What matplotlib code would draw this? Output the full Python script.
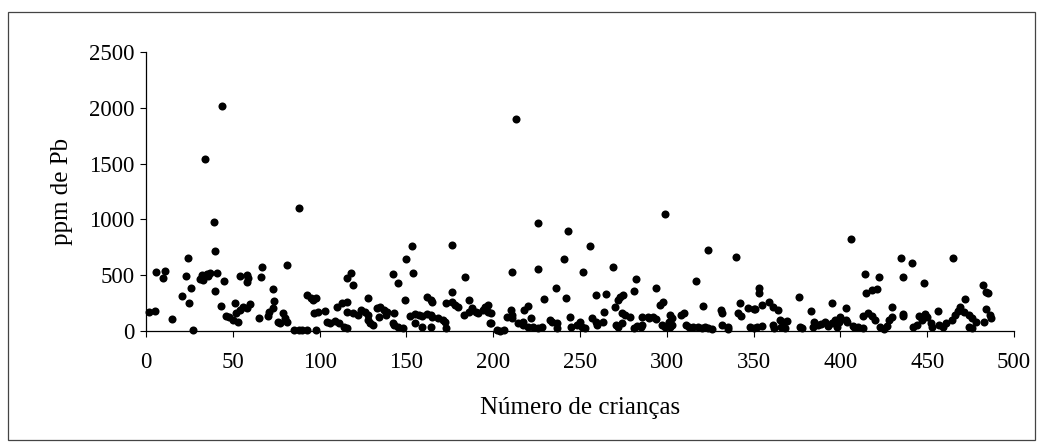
import matplotlib
matplotlib.use("Agg")
import matplotlib.pyplot as plt
from matplotlib.patches import Rectangle

# Number of child (x) and lead concentration in ppm (y)
crianca = [
    2, 5, 6, 10, 11, 15, 21, 24, 23, 25, 26, 27, 31, 32, 34, 35, 36, 37, 33, 39,
    40, 40, 41, 43, 44, 45, 46, 48, 50, 51, 52, 53, 54, 54, 56, 58, 58, 58, 59, 60,
    65, 66, 67, 70, 71, 73, 73, 74, 76, 77, 79, 80, 81, 81, 85, 88, 88, 90, 93, 93,
    95, 96, 97, 98,
    98, 99, 103, 104, 106, 109, 110, 111, 113, 114, 116, 116, 116, 116, 118, 119, 119, 122, 124, 126,
    128, 128, 128, 129, 131, 133, 134, 135, 137, 138, 139, 142, 142, 143, 143, 145, 145, 148, 149, 150,
    152, 153, 154, 155, 155, 157, 159, 159, 162, 162, 164, 164, 164, 165, 165, 168, 171, 172, 173, 173,
    176, 176, 176, 178, 180, 183, 184, 186, 186, 188, 190, 191, 194, 195, 197, 197, 198,
    199, 199, 202, 204, 206, 208, 210, 211, 211, 211, 213, 214, 217, 217, 218, 220, 220, 222, 223, 226,
    226, 226, 228, 229, 233, 234, 236, 237, 237, 241, 242, 243, 244, 245, 248, 250, 251, 252, 253, 256,
    257, 259, 259, 260, 263, 264, 265, 269, 270, 271, 272, 272, 273, 274, 274, 275, 276, 279, 281, 282,
    281, 283, 285, 286, 286, 289, 290, 292, 294, 294, 296, 297, 298, 299, 299, 301,
    302, 303, 301, 303, 302, 308, 310, 311, 313, 315, 317, 318, 320, 321, 322, 324, 324, 326, 331, 332,
    332, 335, 335, 340, 342, 341, 343, 347, 350, 351, 348, 350, 352, 355, 353, 353, 355, 359, 361, 364,
    361, 362, 365, 367, 369, 366, 368, 376, 377, 378, 383, 385, 387, 384, 389, 391, 393, 395, 397, 399,
    398, 395, 403,
    400, 403, 404, 407, 408, 410, 413, 406, 413, 414, 415, 416, 418, 418, 420, 421, 422, 423, 425, 427,
    428, 430, 430, 435, 436, 436, 436, 441, 442, 444, 445, 447, 448, 449, 450, 452, 453, 456, 457, 459,
    461, 464, 465, 466, 468, 469, 471, 472, 474, 474, 476, 476, 478, 482, 483, 484, 484, 485, 486, 487,
]
ppm_pb = [
    170, 180, 530, 475, 540, 108, 314, 654, 493, 250, 385, 9, 470, 500, 1541, 510, 490, 520, 460, 977,
    717, 360, 520, 224, 2016, 448, 134, 125, 99, 251, 161, 81, 188, 493, 215, 206, 502, 439, 475, 242,
    116, 484, 573, 134, 170, 206, 376, 269, 81, 72, 161, 116, 591, 81, 9, 9, 1102, 9, 9, 322,
    295, 278, 161, 9,
    296, 170, 180, 81, 72, 90, 215, 72, 251, 36, 260, 27, 170, 475, 520, 412, 161, 143, 188, 170,
    143, 99, 296, 72, 54, 206, 125, 215, 188, 143, 170, 72, 511, 54, 161, 36, 430, 27, 278, 645,
    134, 762, 520, 152, 72, 143, 134, 36, 152, 305, 143, 36, 278, 260, 125, 116, 99, 81, 27, 251,
    770, 260, 350, 233, 215, 143, 484, 278, 170, 206, 170, 161, 188, 215, 233, 170, 72,
    161, 72, 9, 0, 9, 125, 188, 143, 116, 529, 1900, 72, 81, 54, 188, 36, 224, 116, 36, 27,
    555, 967, 36, 287, 99, 81, 385, 72, 27, 645, 296, 896, 125, 36, 54, 81, 36, 529, 27, 762,
    116, 81, 323, 54, 81, 170, 332, 573, 215, 54, 278, 36, 305, 72, 161, 323, 143, 125, 27, 466,
    358, 45, 36, 54, 125, 125, 116, 125, 385, 107, 233, 54, 260, 36, 1048, 72,
    143, 116, 81, 54, 36, 143, 161, 54, 36, 36, 448, 36, 27, 224, 36, 27, 726, 18, 188, 161,
    54, 36, 18, 663, 251, 161, 134, 206, 197, 197, 36, 27, 36, 45, 385, 340, 233, 260, 215, 188,
    54, 27, 99, 81, 90, 36, 27, 305, 36, 27, 180, 81, 54, 36, 63, 81, 45, 72, 99, 81,
    36, 251, 206,
    125, 99, 81, 45, 36, 36, 27, 824, 134, 511, 340, 161, 367, 134, 99, 376, 484, 36, 18, 45,
    99, 125, 215, 654, 134, 152, 484, 609, 36, 54, 134, 99, 430, 152, 125, 72, 36, 180, 54, 36,
    72, 99, 654, 143, 180, 215, 170, 287, 143, 36, 116, 27, 81, 412, 81, 350, 197, 340, 143, 116,
]

x_ticks = [0, 50, 100, 150, 200, 250, 300, 350, 400, 450, 500]
y_ticks = [0, 500, 1000, 1500, 2000, 2500]
x_label = "Número de crianças"
y_label = "ppm de Pb"

plt.rcParams['font.family'] = ['Liberation Serif', 'DejaVu Serif']

W, H = 1043, 446
fig = plt.figure(figsize=(W / 100, H / 100), dpi=100)
ax = fig.add_axes([146 / W, 1 - 331 / H, (1014 - 146) / W, (331 - 52) / H])

ax.plot(crianca, ppm_pb, linestyle='none', marker='o', markersize=5.8,
        color='black', markeredgewidth=0, clip_on=False, zorder=3)

ax.set_xlim(0, 500)
ax.set_ylim(0, 2500)
ax.set_xticks(x_ticks)
ax.set_yticks(y_ticks)
ax.set_xticklabels([str(v) for v in x_ticks])
ax.set_yticklabels([str(v) for v in y_ticks])

for s in ['top', 'right']:
    ax.spines[s].set_visible(False)
for s in ['left', 'bottom']:
    ax.spines[s].set_linewidth(0.9)
    ax.spines[s].set_color('black')

ax.tick_params(axis='both', direction='out', length=4, width=0.8, colors='black',
               labelsize=16.5)
ax.tick_params(axis='x', pad=11)
ax.tick_params(axis='y', pad=4)

ax.set_xlabel(x_label, fontsize=18)
ax.set_ylabel(y_label, fontsize=18)
ax.xaxis.set_label_coords(0.5, -0.235)
ax.yaxis.set_label_coords(-0.084, 0.5)

# outer chart-area frame
fig.patches.append(Rectangle((8 / W, 1 - 440 / H), (1035 - 8) / W, (440 - 12) / H,
                             transform=fig.transFigure, fill=False,
                             edgecolor='#444444', linewidth=0.9))

fig.savefig("out.png", dpi=100)
